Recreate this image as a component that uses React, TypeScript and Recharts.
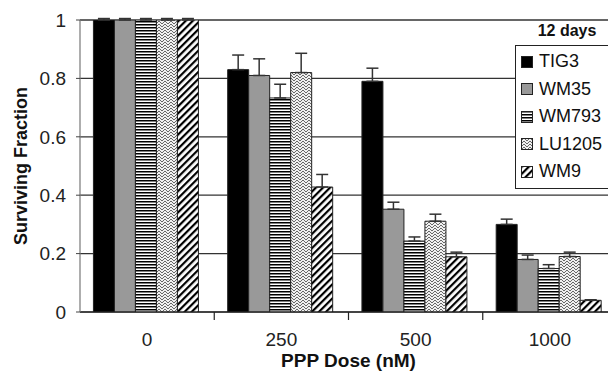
import { Bar, BarChart, CartesianGrid, ErrorBar, Label, XAxis, YAxis } from "recharts";

const doses = ["0", "250", "500", "1000"];
const yTicks = [0, 0.2, 0.4, 0.6, 0.8, 1];

const tig3 = [1, 0.83, 0.79, 0.3];
const tig3Err = [0.005, 0.05, 0.045, 0.018];
const wm35 = [1, 0.81, 0.352, 0.18];
const wm35Err = [0.005, 0.057, 0.024, 0.015];
const wm793 = [1, 0.733, 0.243, 0.149];
const wm793Err = [0.005, 0.047, 0.014, 0.013];
const lu1205 = [1, 0.82, 0.311, 0.19];
const lu1205Err = [0.005, 0.066, 0.024, 0.015];
const wm9 = [1, 0.428, 0.189, 0.04];
const wm9Err = [0.005, 0.043, 0.016, 0.002];

const series = [
  { key: "TIG3", values: tig3, errors: tig3Err, fill: "#000" },
  { key: "WM35", values: wm35, errors: wm35Err, fill: "#999" },
  { key: "WM793", values: wm793, errors: wm793Err, fill: "url(#pat-horiz)" },
  { key: "LU1205", values: lu1205, errors: lu1205Err, fill: "url(#pat-weave)" },
  { key: "WM9", values: wm9, errors: wm9Err, fill: "url(#pat-diag)" },
];

const data = doses.map((dose, i) => {
  const row: Record<string, any> = { dose };
  series.forEach((s) => {
    row[s.key] = s.values[i];
    row[s.key + "_err"] = [0, s.errors[i]];
  });
  return row;
});

const FONT = "'Liberation Sans', Arial, sans-serif";

function Patterns() {
  return (
    <svg width={0} height={0} style={{ position: "absolute" }}>
      <defs>
        <pattern id="pat-horiz" width={6} height={3} patternUnits="userSpaceOnUse">
          <rect width={6} height={3} fill="#fff" />
          <rect width={6} height={1.5} fill="#000" />
        </pattern>
        <pattern id="pat-weave" width={6} height={6} patternUnits="userSpaceOnUse">
          <rect width={6} height={6} fill="#f0f0f0" />
          <path d="M0,3 L3,0 L6,3 M0,6 L3,3 L6,6" stroke="#444" strokeWidth={0.8} fill="none" />
        </pattern>
        <pattern
          id="pat-diag"
          width={5}
          height={5}
          patternUnits="userSpaceOnUse"
          patternTransform="rotate(45)"
        >
          <rect width={5} height={5} fill="#fff" />
          <rect width={2.2} height={5} fill="#000" />
        </pattern>
      </defs>
    </svg>
  );
}

function DoseTick(props: any) {
  const { x, y, payload, index, width, visibleTicksCount } = props;
  const half = width / visibleTicksCount / 2;
  return (
    <g>
      {index < visibleTicksCount - 1 && (
        <line x1={x + half} x2={x + half} y1={y - 8} y2={y} stroke="#222" strokeWidth={1.2} />
      )}
      <text x={x} y={y} dy={26} textAnchor="middle" fill="#222" fontSize={19} fontFamily={FONT}>
        {payload.value}
      </text>
    </g>
  );
}

function XTitle({ viewBox }: any) {
  return (
    <text
      x={viewBox.x + viewBox.width / 2}
      y={viewBox.y + 55}
      textAnchor="middle"
      fontFamily={FONT}
      fontWeight="bold"
      fontSize={19}
      fill="#111"
    >
      PPP Dose (nM)
    </text>
  );
}

function YTitle({ viewBox }: any) {
  const cx = viewBox.x + 21;
  const cy = viewBox.y + viewBox.height / 2;
  return (
    <text
      x={cx}
      y={cy}
      transform={`rotate(-90, ${cx}, ${cy})`}
      textAnchor="middle"
      dominantBaseline="central"
      fontFamily={FONT}
      fontWeight="bold"
      fontSize={18}
      fill="#111"
    >
      Surviving Fraction
    </text>
  );
}

function LegendBox() {
  return (
    <div style={{ position: "absolute", left: 515, top: 22, width: 104, fontFamily: FONT, color: "#111" }}>
      <div style={{ textAlign: "center", fontWeight: "bold", fontSize: 16, height: 23 }}>12 days</div>
      <div style={{ border: "1px solid #222", background: "#fff", padding: "2px 0 2px 5px" }}>
        {series.map((s) => (
          <div key={s.key} style={{ display: "flex", alignItems: "center", height: 27.5, fontSize: 18 }}>
            <svg width={12} height={12} style={{ marginRight: 6, flexShrink: 0 }}>
              <rect x={0.5} y={0.5} width={11} height={11} fill={s.fill} stroke="#222" strokeWidth={1} />
            </svg>
            <span style={{ whiteSpace: "nowrap" }}>{s.key}</span>
          </div>
        ))}
      </div>
    </div>
  );
}

export default function App() {
  return (
    <div
      style={{
        position: "fixed",
        left: 0,
        top: 0,
        width: 608,
        height: 372,
        overflow: "hidden",
        background: "#fff",
      }}
    >
      <Patterns />
      <BarChart
        width={620}
        height={372}
        data={data}
        margin={{ top: 20, right: 3, bottom: 0, left: 0 }}
        barCategoryGap="10%"
        barGap={0}
      >
        <CartesianGrid vertical={false} stroke="#333" strokeWidth={1.3} />
        <XAxis
          dataKey="dose"
          height={60}
          tickLine={false}
          tick={<DoseTick />}
          axisLine={{ stroke: "#222", strokeWidth: 1.2 }}
        >
          <Label content={<XTitle />} />
        </XAxis>
        <YAxis
          width={80}
          domain={[0, 1]}
          ticks={yTicks}
          allowDataOverflow
          tickSize={4}
          tickMargin={10}
          tickLine={{ stroke: "#444" }}
          axisLine={{ stroke: "#777", strokeWidth: 1.2 }}
          tick={{ fontFamily: FONT, fontSize: 19, fill: "#222" }}
        >
          <Label content={<YTitle />} />
        </YAxis>
        {series.map((s) => (
          <Bar key={s.key} dataKey={s.key} fill={s.fill} stroke="#222" strokeWidth={1} isAnimationActive={false}>
            <ErrorBar dataKey={s.key + "_err"} direction="y" width={6} stroke="#333" strokeWidth={1.5} />
          </Bar>
        ))}
      </BarChart>
      <LegendBox />
    </div>
  );
}
